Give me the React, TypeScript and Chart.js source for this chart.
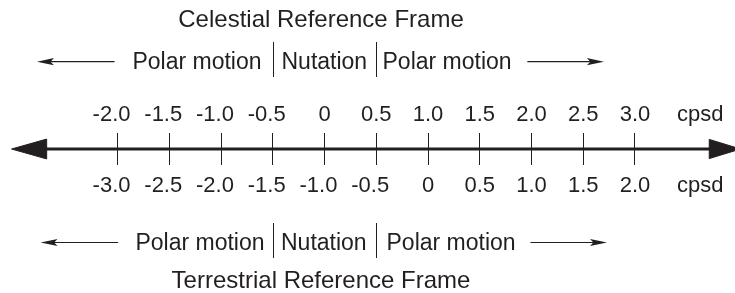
import React, { useEffect, useRef } from "react";
import { Chart, registerables } from "chart.js";

Chart.register(...registerables);

// ---- data ----
const celestialTicks = [-2.0, -1.5, -1.0, -0.5, 0, 0.5, 1.0, 1.5, 2.0, 2.5, 3.0];
const terrestrialTicks = [-3.0, -2.5, -2.0, -1.5, -1.0, -0.5, 0, 0.5, 1.0, 1.5, 2.0];
const unitLabel = "cpsd";
const celestialUnitAt = 3.63;
const terrestrialUnitAt = 2.63;
const topTitle = "Celestial Reference Frame";
const bottomTitle = "Terrestrial Reference Frame";
const bandLabels = ["Polar motion", "Nutation", "Polar motion"];
// nutation band limits, in celestial cpsd
const nutationBand = [-0.5, 0.5];
// main axis line & arrowheads, in celestial cpsd (y is a unitless -1..1 band)
const axisLine = [
  { x: -2.7, y: 0 },
  { x: 3.75, y: 0 },
];
const leftHead = [
  { x: -2.686, y: 0.62 },
  { x: -3.025, y: 0 },
  { x: -2.686, y: -0.62 },
  { x: -2.686, y: 0.62 },
];
const rightHead = [
  { x: 3.718, y: 0.6 },
  { x: 4.02, y: 0 },
  { x: 3.718, y: -0.6 },
  { x: 3.718, y: 0.6 },
];
// small direction arrows of the band rows [tip, tail], in celestial cpsd
const topLeftArrow = [-2.78, -2.03];
const topRightArrow = [2.70, 1.96];
const bottomLeftArrow = [-2.745, -1.995];
const bottomRightArrow = [2.73, 1.99];

const INK = "#231f20";
const FONT = '"Liberation Sans", Arial, sans-serif';

const fmt = (v: number) => (v === 0 ? "0" : v < 0 ? v.toFixed(1) + "  " : v.toFixed(1));

const rowsPlugin = {
  id: "rows",
  afterDraw(chart: any) {
    const ctx = chart.ctx as CanvasRenderingContext2D;
    const s = chart.scales.x2;
    const px = (v: number) => s.getPixelForValue(v);
    ctx.save();
    ctx.fillStyle = INK;
    ctx.strokeStyle = INK;
    ctx.textBaseline = "alphabetic";

    ctx.font = "24px " + FONT;
    ctx.textAlign = "center";
    ctx.fillText(topTitle, 321, 27);
    ctx.fillText(bottomTitle, 321, 287.5);

    const sepL = Math.round(px(nutationBand[0])) + 0.5;
    const sepR = Math.round(px(nutationBand[1])) + 0.5;

    const drawArrow = (tipV: number, tailV: number, y: number) => {
      const tip = px(tipV);
      const tail = px(tailV);
      const dir = tip > tail ? 1 : -1;
      const headLen = 17;
      const half = 3.6;
      ctx.lineWidth = 1.2;
      ctx.beginPath();
      ctx.moveTo(tail, y);
      ctx.lineTo(tip - dir * headLen * 0.6, y);
      ctx.stroke();
      ctx.beginPath();
      ctx.moveTo(tip, y);
      ctx.lineTo(tip - dir * headLen, y - half);
      ctx.lineTo(tip - dir * headLen * 0.8, y);
      ctx.lineTo(tip - dir * headLen, y + half);
      ctx.closePath();
      ctx.fill();
    };

    const drawRow = (
      baseline: number,
      sepTop: number,
      sepBottom: number,
      arrowY: number,
      leftGap: number,
      midGap: number,
      rightGap: number,
      la: number[],
      ra: number[]
    ) => {
      ctx.font = "23px " + FONT;
      ctx.textAlign = "right";
      ctx.fillText(bandLabels[0], sepL - leftGap, baseline);
      ctx.textAlign = "left";
      ctx.fillText(bandLabels[1], sepL + midGap, baseline);
      ctx.fillText(bandLabels[2], sepR + rightGap, baseline);
      ctx.lineWidth = 1;
      ctx.beginPath();
      ctx.moveTo(sepL, sepTop);
      ctx.lineTo(sepL, sepBottom);
      ctx.moveTo(sepR, sepTop);
      ctx.lineTo(sepR, sepBottom);
      ctx.stroke();
      drawArrow(la[0], la[1], arrowY);
      drawArrow(ra[0], ra[1], arrowY);
    };

    drawRow(69, 42, 77, 61.7, 12, 8, 6, topLeftArrow, topRightArrow);
    drawRow(249.5, 223, 258, 242.5, 9, 7.5, 10, bottomLeftArrow, bottomRightArrow);
    ctx.restore();
  },
};

export default function App() {
  const ref = useRef<HTMLCanvasElement | null>(null);
  useEffect(() => {
    if (!ref.current) return;
    const chart = new Chart(ref.current, {
      type: "line",
      data: {
        datasets: [
          {
            data: axisLine,
            xAxisID: "x2",
            borderColor: INK,
            borderWidth: 3,
            pointRadius: 0,
            fill: false,
          },
          {
            data: leftHead,
            xAxisID: "x2",
            borderColor: INK,
            backgroundColor: INK,
            borderWidth: 1,
            pointRadius: 0,
            tension: 0,
            fill: "shape",
          },
          {
            data: rightHead,
            xAxisID: "x2",
            borderColor: INK,
            backgroundColor: INK,
            borderWidth: 1,
            pointRadius: 0,
            tension: 0,
            fill: "shape",
          },
        ],
      } as any,
      options: {
        animation: false,
        responsive: false,
        devicePixelRatio: 1,
        layout: { padding: 0 },
        clip: false as any,
        plugins: {
          legend: { display: false },
          title: { display: false },
          tooltip: { enabled: false },
        },
        scales: {
          x2: {
            type: "linear",
            position: "top",
            min: -3.137,
            max: 3.967,
            afterFit: (sc: any) => {
              sc.height = 133;
            },
            afterBuildTicks: (sc: any) => {
              sc.ticks = celestialTicks
                .map((v) => ({ value: v }))
                .concat([{ value: celestialUnitAt }]);
            },
            border: { display: false },
            grid: {
              display: true,
              drawOnChartArea: true,
              drawTicks: false,
              lineWidth: 1,
              color: (c: any) =>
                c.tick && c.tick.value === celestialUnitAt ? "rgba(0,0,0,0)" : INK,
            },
            ticks: {
              autoSkip: false,
              maxRotation: 0,
              minRotation: 0,
              padding: 5,
              color: INK,
              font: { family: FONT, size: 22 },
              callback: (v: any) => (v === celestialUnitAt ? unitLabel : fmt(v)),
            },
          },
          x: {
            type: "linear",
            position: "bottom",
            min: -4.137,
            max: 2.967,
            afterFit: (sc: any) => {
              sc.height = 128;
            },
            afterBuildTicks: (sc: any) => {
              sc.ticks = terrestrialTicks
                .map((v) => ({ value: v }))
                .concat([{ value: terrestrialUnitAt }]);
            },
            border: { display: false },
            grid: { display: false, drawTicks: false },
            ticks: {
              autoSkip: false,
              maxRotation: 0,
              minRotation: 0,
              padding: 8,
              color: INK,
              font: { family: FONT, size: 22 },
              callback: (v: any) => (v === terrestrialUnitAt ? unitLabel : fmt(v)),
            },
          },
          y: {
            type: "linear",
            display: false,
            min: -1,
            max: 1,
          },
        },
      } as any,
      plugins: [rowsPlugin],
    });
    return () => chart.destroy();
  }, []);
  return (
    <div style={{ position: "fixed", left: 0, top: 0, width: 735, height: 293, background: "#fff" }}>
      <canvas ref={ref} width={735} height={293} />
    </div>
  );
}
